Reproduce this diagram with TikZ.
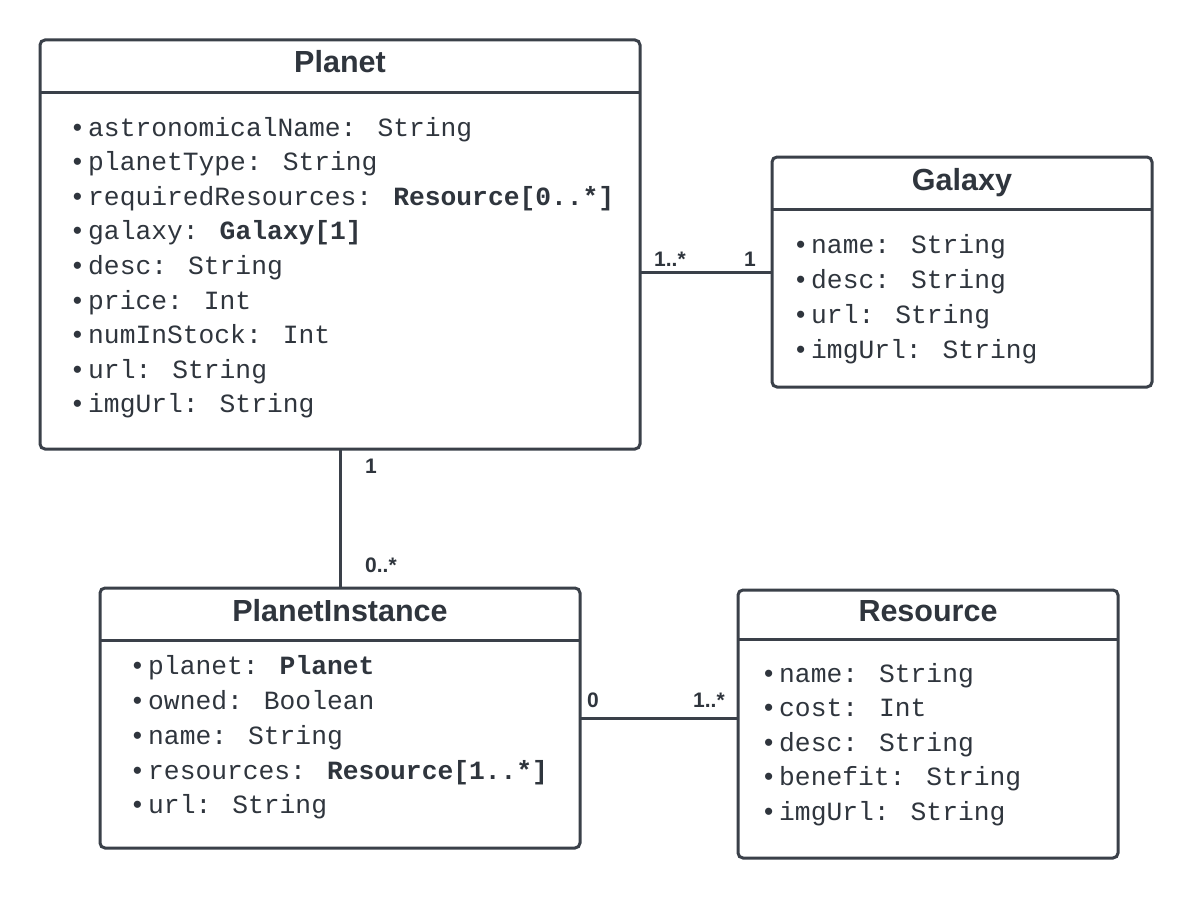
\documentclass[tikz,border=0pt]{standalone}
\usepackage{fontspec}
\newfontfamily\monof{Liberation Mono}
\newfontfamily\sansf{Liberation Sans}
\definecolor{ink}{HTML}{3A4049}
\definecolor{txt}{HTML}{2F353D}
\tikzset{
  classbox/.style={draw=ink, line width=3pt, rounded corners=5pt, fill=white, inner sep=0pt, outer sep=0pt},
  sepline/.style={draw=ink, line width=3pt},
  conn/.style={draw=ink, line width=3pt},
  classtitle/.style={anchor=base, inner sep=0pt, text=txt, font=\sansf\bfseries\fontsize{30.5}{36}\selectfont},
  attr/.style={anchor=base west, inner sep=0pt, text=txt, font=\monof\fontsize{26.3}{32}\selectfont},
  mult/.style={anchor=base west, inner sep=0pt, text=txt, font=\sansf\bfseries\fontsize{21}{25}\selectfont},
}
\newcommand{\bul}{\llap{{\sansf •}\kern 6pt}}
\begin{document}
\begin{tikzpicture}[x=1pt,y=-1pt]
\useasboundingbox (0,0) rectangle (1193,899);
\fill[white] (0,0) rectangle (1193,899);

% class boxes
\node[classbox, minimum width=600pt, minimum height=409pt] (planet) at (340,244.5) {};
\node[classbox, minimum width=380pt, minimum height=230pt] (galaxy) at (962,272) {};
\node[classbox, minimum width=480pt, minimum height=260pt] (pi) at (340,718) {};
\node[classbox, minimum width=380pt, minimum height=268pt] (resource) at (928,724) {};

% header separators
\draw[sepline] (planet.west |- 0,92) -- (planet.east |- 0,92);
\draw[sepline] (galaxy.west |- 0,209) -- (galaxy.east |- 0,209);
\draw[sepline] (pi.west |- 0,640) -- (pi.east |- 0,640);
\draw[sepline] (resource.west |- 0,639) -- (resource.east |- 0,639);

% titles
\node[classtitle] (tplanet) at (340,73) {Planet};
\node[classtitle] (tgalaxy) at (962,190) {Galaxy};
\node[classtitle] (tpi) at (340,621) {PlanetInstance};
\node[classtitle] (tresource) at (928,621) {Resource};

% Planet attributes
\node[attr] (p1) at (88,136.0) {\bul astronomicalName: String};
\node[attr] (p2) at (88,170.6) {\bul planetType: String};
\node[attr] (p3) at (88,205.2) {\bul requiredResources: \textbf{Resource[0..*]}};
\node[attr] (p4) at (88,239.8) {\bul galaxy: \textbf{Galaxy[1]}};
\node[attr] (p5) at (88,274.4) {\bul desc: String};
\node[attr] (p6) at (88,309.0) {\bul price: Int};
\node[attr] (p7) at (88,343.6) {\bul numInStock: Int};
\node[attr] (p8) at (88,378.2) {\bul url: String};
\node[attr] (p9) at (88,412.8) {\bul imgUrl: String};

% Galaxy attributes
\node[attr] (g1) at (811,253) {\bul name: String};
\node[attr] (g2) at (811,288) {\bul desc: String};
\node[attr] (g3) at (811,323) {\bul url: String};
\node[attr] (g4) at (811,358) {\bul imgUrl: String};

% PlanetInstance attributes
\node[attr] (i1) at (148,674) {\bul planet: \textbf{Planet}};
\node[attr] (i2) at (148,709) {\bul owned: Boolean};
\node[attr] (i3) at (148,744) {\bul name: String};
\node[attr] (i4) at (148,779) {\bul resources: \textbf{Resource[1..*]}};
\node[attr] (i5) at (148,813) {\bul url: String};

% Resource attributes
\node[attr] (r1) at (779,682) {\bul name: String};
\node[attr] (r2) at (779,716.5) {\bul cost: Int};
\node[attr] (r3) at (779,751) {\bul desc: String};
\node[attr] (r4) at (779,785.5) {\bul benefit: String};
\node[attr] (r5) at (779,820) {\bul imgUrl: String};

% connectors
\draw[conn] (planet.east |- 0,272) -- (galaxy.west |- 0,272);
\draw[conn] (planet.south) -- (pi.north);
\draw[conn] (pi.east |- 0,718) -- (resource.west |- 0,718);

% multiplicities
\node[mult] (m1) at (654,266) {1..*};
\node[mult] (m2) at (744,266) {1};
\node[mult] (m3) at (365,473) {1};
\node[mult] (m4) at (365,572) {0..*};
\node[mult] (m5) at (587,707) {0};
\node[mult] (m6) at (693,707) {1..*};
\end{tikzpicture}
\end{document}
